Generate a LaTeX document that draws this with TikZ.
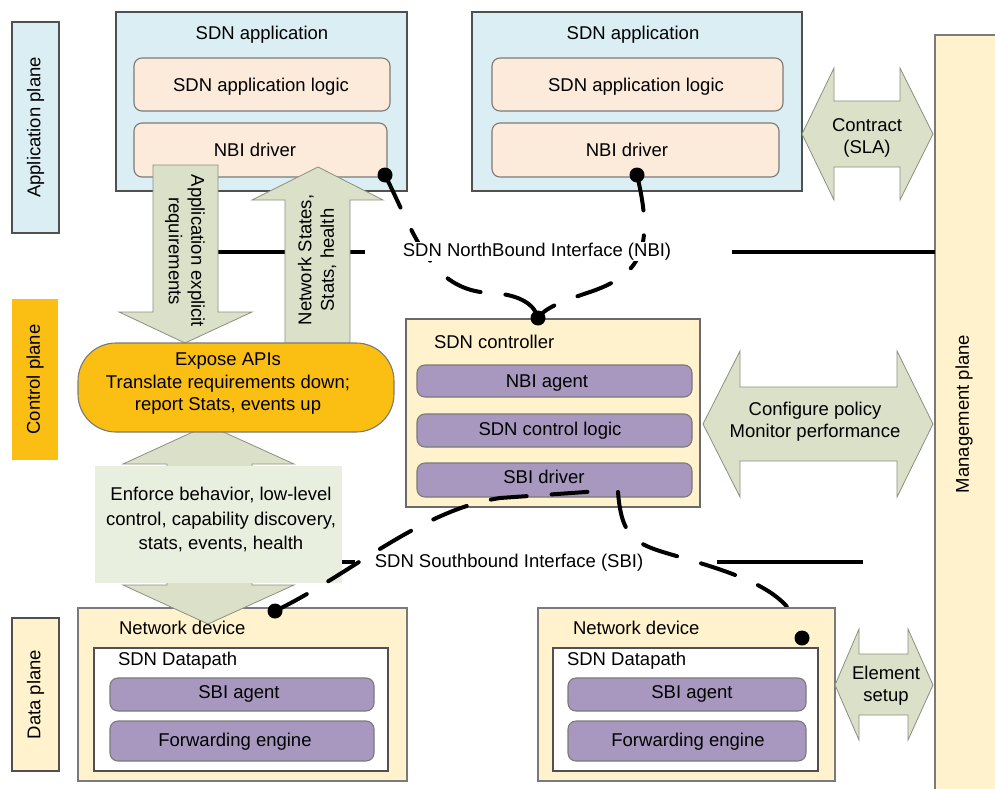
\documentclass[tikz,border=0pt]{standalone}
\usepackage{fontspec}
\setmainfont{Liberation Sans}
\definecolor{appblue}{HTML}{DBEEF3}
\definecolor{peach}{HTML}{FCEADB}
\definecolor{flowgreen}{HTML}{DBE0C9}
\definecolor{flowedge}{HTML}{8C8F80}
\definecolor{ctrlorange}{HTML}{FBBF14}
\definecolor{enforcegreen}{HTML}{E9EFDF}
\definecolor{devyellow}{HTML}{FFF2CC}
\definecolor{lilac}{HTML}{A898BF}
\definecolor{framegray}{HTML}{505050}
\definecolor{partgray}{HTML}{7A7A7A}
\begin{document}
\begin{tikzpicture}[x=1pt,y=-1pt,
  every node/.style={font=\fontsize{18.5}{22.5}\selectfont, inner sep=0pt, outer sep=0pt},
  outerbox/.style={draw=framegray, line width=1.6pt, anchor=north west},
  partbox/.style={draw=partgray, line width=1.1pt, rounded corners=8pt, anchor=north west},
  tx/.style={anchor=base},
  txw/.style={anchor=base west},
  flow/.style={fill=flowgreen, draw=flowedge, line width=0.8pt, line join=miter},
  busline/.style={line width=4pt},
  iface/.style={line width=4pt, line cap=round, dash pattern=on 36pt off 25pt},
  joint/.style={circle, fill=black, minimum size=15pt},
  planelabel/.style={rotate=90, minimum height=47pt},
]
\useasboundingbox (0,0) rectangle (995,789);

% ---------- plane labels ----------
\node[planelabel, draw=framegray, line width=1.6pt, fill=appblue, minimum width=211pt] (appplane) at (35.5,127.5) {Application plane};
\node[planelabel, fill=ctrlorange, minimum width=161pt, minimum height=46pt] (ctrlplane) at (35,379.5) {Control plane};
\node[planelabel, draw=framegray, line width=1.6pt, fill=devyellow, minimum width=153pt] (dataplane) at (35.5,694.5) {Data plane};
\node[outerbox, draw=partgray, fill=devyellow, minimum width=70pt, minimum height=760pt] (mgmt) at (935,35) {};
\node[rotate=90] (mgmttext) at (964,414) {Management plane};

% ---------- SDN applications ----------
\node[outerbox, fill=appblue, minimum width=291pt, minimum height=179pt] (app1) at (116,12) {};
\node[tx] (app1title) at (262,39.5) {SDN application};
\node[partbox, fill=peach, minimum width=256pt, minimum height=53pt] (logic1) at (134,58) {};
\node[tx] (logic1text) at (261,91.5) {SDN application logic};
\node[partbox, fill=peach, minimum width=253pt, minimum height=54pt] (nbi1) at (134,123) {};
\node[tx] (nbi1text) at (255,156.7) {NBI driver};

\node[outerbox, fill=appblue, minimum width=330pt, minimum height=179pt] (app2) at (472,12) {};
\node[tx] (app2title) at (633,39.5) {SDN application};
\node[partbox, fill=peach, minimum width=291pt, minimum height=53pt] (logic2) at (492,58) {};
\node[tx] (logic2text) at (636,91.5) {SDN application logic};
\node[partbox, fill=peach, minimum width=287pt, minimum height=54pt] (nbi2) at (492,123) {};
\node[tx] (nbi2text) at (627,156.7) {NBI driver};

% ---------- northbound bus line ----------
\coordinate (nbibusA) at (218,252);
\coordinate (nbibusB) at (365,252);
\coordinate (nbibusC) at (732,252);
\draw[busline] (nbibusA) -- (nbibusB);
\draw[busline] (nbibusC) -- (mgmt.west |- nbibusC);

% ---------- requirement / state arrows ----------
\draw[flow] (153,165) -- (218,165) -- (218,312) -- (252,312) -- (185,343) -- (119,312) -- (153,312) -- cycle;
\node[rotate=-90, align=center] (reqtext) at (185,251) {Application explicit\\requirements};
\draw[flow] (285,350) -- (285,200) -- (252,200) -- (318,167) -- (383,200) -- (350,200) -- (350,350) -- cycle;
\node[rotate=90, align=center] (statetext) at (317,260) {Network States,\\Stats, health};

% ---------- network device (left) ----------
\node[outerbox, draw=partgray, fill=devyellow, minimum width=329pt, minimum height=173pt] (dev1) at (78,608) {};
\node[outerbox, fill=white, minimum width=294pt, minimum height=123pt] (dp1) at (94,648) {};
\node[txw] (dp1title) at (118,665) {SDN Datapath};
\node[partbox, fill=lilac, minimum width=264pt, minimum height=33pt] (sbia1) at (110,678) {};
\node[tx] (sbia1text) at (239,698.3) {SBI agent};
\node[partbox, fill=lilac, minimum width=264pt, minimum height=40pt] (fwd1) at (110,721) {};
\node[tx] (fwd1text) at (235,746.7) {Forwarding engine};

% ---------- control-plane functions ----------
\draw[flow] (208,425) -- (294,464) -- (252,464) -- (252,585) -- (294,585) -- (208,624) -- (123,585) -- (167,585) -- (167,464) -- (123,464) -- cycle;
\node[fill=enforcegreen, minimum width=247pt, minimum height=117pt, anchor=north west] (enforce) at (95,466) {};
\node[align=center, font=\fontsize{18.5}{24.5}\selectfont] (enforcetext) at (221,519.5) {Enforce behavior, low-level\\control, capability discovery,\\stats, events, health};
\node[draw=partgray, line width=1.1pt, fill=ctrlorange, rounded corners=38pt, minimum width=316pt, minimum height=89pt, anchor=north west] (expose) at (78,343) {};
\node[align=center] (exposetext) at (228,384) {Expose APIs\\Translate requirements down;\\report Stats, events up};
\node[txw] (dev1title) at (119,634) {Network device};

% ---------- SDN controller ----------
\node[outerbox, draw=framegray!85, fill=devyellow, minimum width=294pt, minimum height=188pt] (ctrl) at (406,319) {};
\node[txw] (ctrltitle) at (434,348.3) {SDN controller};
\node[partbox, fill=lilac, minimum width=275pt, minimum height=32pt] (nbiagent) at (417,365) {};
\node[tx] (nbiagenttext) at (547,387.3) {NBI agent};
\node[partbox, fill=lilac, minimum width=275pt, minimum height=33pt] (ctrllogic) at (417,414) {};
\node[tx] (ctrllogictext) at (550,435.7) {SDN control logic};
\node[partbox, fill=lilac, minimum width=275pt, minimum height=34pt] (sbidrv) at (417,463) {};
\node[tx] (sbidrvtext) at (544,483.3) {SBI driver};

% ---------- southbound bus line ----------
\draw[busline] (enforce.east |- 0,562) -- (355,562);
\coordinate (sbibusC) at (717,562);
\draw[busline] (sbibusC) -- (863,562);

% ---------- interface connectors ----------
\coordinate (nbiL) at (385,175);
\coordinate (nbiR) at (637,175);
\coordinate (ctrltop) at (538,318);
\coordinate (dev1dot) at (275,611);
\coordinate (sbitap) at (618,492);
\coordinate (sbiend) at (600,491);
\coordinate (dev2dot) at (802,638);

\draw[iface] (nbiL) .. controls (415,235) and (430,290) .. (490,293) .. controls (520,294) and (535,305) .. (ctrltop);
\draw[iface] (nbiR) .. controls (655,250) and (640,275) .. (590,292) .. controls (560,302) and (545,308) .. (ctrltop);
\draw[iface] (dev1dot) .. controls (350,575) and (420,510) .. (500,498) -- (sbiend);
\draw[iface] (sbitap) .. controls (622,545) and (640,545) .. (690,560) .. controls (750,578) and (795,595) .. (dev2dot);

% ---------- network device (right) ----------
\node[outerbox, draw=partgray, fill=devyellow, minimum width=297pt, minimum height=173pt] (dev2) at (538,608) {};
\node[txw] (dev2title) at (573,634) {Network device};
\node[outerbox, fill=white, minimum width=265pt, minimum height=123pt] (dp2) at (553,648) {};
\node[txw] (dp2title) at (567,665) {SDN Datapath};
\node[partbox, fill=lilac, minimum width=238pt, minimum height=33pt] (sbia2) at (568,678) {};
\node[tx] (sbia2text) at (692,698.3) {SBI agent};
\node[partbox, fill=lilac, minimum width=238pt, minimum height=40pt] (fwd2) at (568,721) {};
\node[tx] (fwd2text) at (688,746.7) {Forwarding engine};

% ---------- interface labels and joints ----------
\node[tx, fill=white, inner sep=1pt] (nbilabel) at (537,256) {SDN NorthBound Interface (NBI)};
\node[tx, fill=white, inner sep=1pt] (sbilabel) at (509,567.3) {SDN Southbound Interface (SBI)};
\node[joint] (nbiLj) at (nbiL) {};
\node[joint] (nbiRj) at (nbiR) {};
\node[joint] (ctrlj) at (ctrltop) {};
\node[joint] (dev1j) at (dev1dot) {};
\node[joint] (dev2j) at (dev2dot) {};

% ---------- management interactions ----------
\draw[flow] (802,134) -- (834,68) -- (834,101) -- (900,101) -- (900,68) -- (933,134) -- (900,200) -- (900,167) -- (834,167) -- (834,200) -- cycle;
\node[align=center] (contract) at (867,138) {Contract\\(SLA)};
\draw[flow] (703,424) -- (740,351) -- (740,387) -- (897,387) -- (897,351) -- (933,424) -- (897,497) -- (897,461) -- (740,461) -- (740,497) -- cycle;
\node[align=center] (configure) at (815,421.5) {Configure policy\\Monitor performance};
\draw[flow] (835,685) -- (859,629) -- (859,654) -- (908,654) -- (908,629) -- (933,685) -- (908,740) -- (908,715) -- (859,715) -- (859,740) -- cycle;
\node[align=center] (element) at (886,685.5) {Element\\setup};
\end{tikzpicture}
\end{document}
